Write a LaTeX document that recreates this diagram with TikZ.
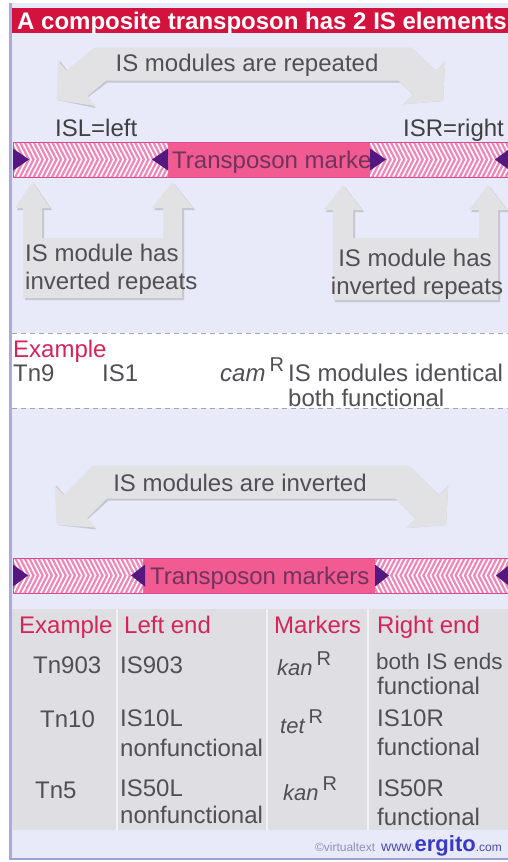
\documentclass[tikz,border=0pt]{standalone}
\usepackage{fontspec}
\setmainfont{Liberation Sans}
\usetikzlibrary{arrows.meta}

\definecolor{panelbg}{RGB}{232,233,249}
\definecolor{panelrim}{RGB}{170,170,224}
\definecolor{titlered}{RGB}{212,18,62}
\definecolor{arrowgray}{RGB}{226,226,228}
\definecolor{arrowshade}{RGB}{198,198,208}
\definecolor{markpink}{RGB}{242,90,146}
\definecolor{hatchpink}{RGB}{240,134,184}
\definecolor{barrim}{RGB}{214,74,138}
\definecolor{irpurple}{RGB}{84,24,128}
\definecolor{labelred}{RGB}{214,36,88}
\definecolor{inkgray}{RGB}{80,80,84}
\definecolor{markink}{RGB}{112,52,92}
\definecolor{tablegray}{RGB}{223,223,227}

% resistance marker, e.g. kan^R
\newcommand\resgene[2][24]{{\fontsize{#1}{#1}\selectfont\itshape #2}\hspace{4pt}\raisebox{10pt}{\fontsize{20}{20}\selectfont R}}

% hatched IS module: x1, x2, y1, y2, chevron direction (1 = right, -1 = left)
\newcommand\ismodule[5]{%
  \fill[hatchpink] (#1,#3) rectangle (#2,#4);
  \begin{scope}
    \clip (#1,#3) rectangle (#2,#4);
    \pgfmathsetmacro\ymid{(#3+#4)/2}
    \foreach \k in {-3,...,38} {
      \pgfmathsetmacro\xa{#1+4.6*\k}
      \draw [white, line width=1.6pt] (\xa,#3) -- ({\xa+9*#5},\ymid) -- (\xa,#4);
    }
  \end{scope}
}

% inverted repeat end: base x, tip x, middle y
\newcommand\irend[3]{\fill[irpurple] (#1,#3-11) -- (#2,#3) -- (#1,#3+11) -- cycle;}

\tikzset{
  txt/.style={font=\fontsize{24}{28}\selectfont, text=inkgray, inner sep=0pt, anchor=base west},
  hdr/.style={txt, text=labelred},
  bigarrow/.style={line width=33pt, line join=miter,
    {Triangle[length=26pt,width=58pt]}-{Triangle[length=26pt,width=58pt]}},
}

\begin{document}
\begin{tikzpicture}[x=1pt, y=-1pt]
  \useasboundingbox (0,0) rectangle (508,862);
  \begin{scope}
    \clip (0,0) rectangle (508,862);

    % Panel and title
    \fill [white] (0,0) rectangle (508,862);
    \fill [panelbg] (10,3) rectangle (508,858);
    \draw [panelrim, line width=3pt] (10,3) -- (10,860);
    \draw [panelrim!80!gray, line width=2pt] (10,859) -- (508,859);
    \fill [titlered] (12,8) rectangle (508,33);
    \node [txt, text=white, font=\fontsize{24}{28}\selectfont\bfseries] (title) at (17,29)
      {A composite transposon has 2 IS elements};

    % Repeated modules
    \coordinate (repL) at (57,100);
    \coordinate (repR) at (443,101);
    \draw [bigarrow, arrowshade, shift={(2,2)}] (repL) -- (100,64) -- (405,64) -- (repR);
    \draw [bigarrow, arrowgray] (repL) -- (100,64) -- (405,64) -- (repR);
    \node [txt, anchor=base] (repeated) at (247,71) {IS modules are repeated};
    \node [txt, text=black!75] (isl) at (55,136) {ISL=left};
    \node [txt, text=black!75] (isr) at (403,136) {ISR=right};

    % First transposon
    \fill [markpink] (168,142) rectangle (370,177);
    \node [txt, text=markink] (markersA) at (172,168) {Transposon markers};
    \ismodule{13}{168}{142}{177}{1}
    \ismodule{370}{508}{142}{177}{1}
    \draw [barrim, line width=1pt] (13,142) rectangle (512,177);
    \irend{13}{29}{159.5}
    \irend{168}{152}{159.5}
    \irend{370}{386}{159.5}
    \irend{510}{495}{159.5}

    % Inverted repeat pointers
    \foreach \dx/\dy in {2/2, 0/0} {
      \ifnum\dx=0 \def\shade{arrowgray}\else \def\shade{arrowshade}\fi
      \fill [\shade, shift={(\dx,\dy)}] (23,298) -- (23,208) -- (15,208) -- (32.5,182)
        -- (50,208) -- (42,208) -- (42,238) -- (163,238) -- (163,208) -- (152,208)
        -- (172.5,182) -- (193,208) -- (182,208) -- (182,298) -- cycle;
      \fill [\shade, shift={(\dx,\dy)}] (333,300) -- (333,210) -- (324,210) -- (343,185)
        -- (362,210) -- (353,210) -- (353,238) -- (479,238) -- (479,210) -- (469,210)
        -- (488,185) -- (507,210) -- (498,210) -- (498,300) -- cycle;
    }
    \node [txt] (invLa) at (25,261) {IS module has};
    \node [txt] (invLb) at (25,289) {inverted repeats};
    \node [txt, anchor=base] (invRa) at (415,266) {IS module has};
    \node [txt, anchor=base] (invRb) at (417,294) {inverted repeats};

    % Tn9 example
    \fill [white] (12,333) rectangle (508,408);
    \draw [gray!70, dash pattern=on 5pt off 4pt] (12,333) -- (508,333);
    \node [hdr] (exA) at (13,357) {Example};
    \node [txt] (tn9) at (13,381) {Tn9};
    \node [txt] (is1) at (102,381) {IS1};
    \node [txt] (cam) at (220,381) {\resgene{cam}};
    \node [txt] (identical) at (288,381) {IS modules identical};
    \node [txt] (bothA) at (288,406) {both functional};
    \draw [gray!70, dash pattern=on 5pt off 4pt] (12,408) -- (508,408);

    % Inverted modules
    \coordinate (invertL) at (57,525);
    \coordinate (invertR) at (446,525);
    \draw [bigarrow, arrowshade, shift={(2,2)}] (invertL) -- (100,482) -- (402,482) -- (invertR);
    \draw [bigarrow, arrowgray] (invertL) -- (100,482) -- (402,482) -- (invertR);
    \node [txt, anchor=base] (inverted) at (240,491) {IS modules are inverted};

    % Second transposon
    \fill [markpink] (143,558) rectangle (375,593);
    \node [txt, text=markink] (markersB) at (150,584) {Transposon markers};
    \ismodule{13}{143}{558}{593}{1}
    \ismodule{375}{508}{558}{593}{-1}
    \draw [barrim, line width=1pt] (13,558) rectangle (512,593);
    \irend{13}{28}{575.5}
    \irend{145}{131}{575.5}
    \irend{375}{389}{575.5}
    \irend{510}{496}{575.5}

    % Table of examples
    \fill [tablegray] (12,609) rectangle (508,830);
    \foreach \cx in {117, 267, 368}
      \draw [white!90!gray, line width=1.5pt] (\cx,609) -- (\cx,830);
    \node [hdr] (exB) at (19,633) {Example};
    \node [hdr] (leftEnd) at (124,633) {Left end};
    \node [hdr] (markers) at (274,633) {Markers};
    \node [hdr] (rightEnd) at (377,633) {Right end};

    \node [txt] (tn903) at (33,673) {Tn903};
    \node [txt] (is903) at (120,673) {IS903};
    \node [txt] (kanA) at (277,675) {\resgene[22]{kan}};
    \node [txt, font=\fontsize{22.5}{26}\selectfont] (bothB) at (376,669) {both IS ends};
    \node [txt] (bothC) at (377,694) {functional};

    \node [txt] (tn10) at (40,727) {Tn10};
    \node [txt] (is10l) at (120,726) {IS10L};
    \node [txt] (nonfA) at (120,756) {nonfunctional};
    \node [txt] (tet) at (280,733) {\resgene[22]{tet}};
    \node [txt] (is10r) at (377,726) {IS10R};
    \node [txt] (funcA) at (377,755) {functional};

    \node [txt] (tn5) at (35,798) {Tn5};
    \node [txt] (is50l) at (120,796) {IS50L};
    \node [txt] (nonfB) at (120,823) {nonfunctional};
    \node [txt] (kanB) at (283,800) {\resgene[22]{kan}};
    \node [txt] (is50r) at (377,796) {IS50R};
    \node [txt] (funcB) at (377,825) {functional};

    % Credit line
    \node [inner sep=0pt, anchor=base east] (credit) at (502,851)
      {\fontsize{12}{14}\selectfont\color{blue!25!gray!70}©virtualtext\hspace{6pt}%
       \fontsize{14}{14}\selectfont\color{blue!40!gray}www.%
       {\fontsize{22}{22}\selectfont\bfseries\color{blue!55!gray}ergito}%
       \fontsize{12}{14}\selectfont.com};
  \end{scope}
\end{tikzpicture}
\end{document}
